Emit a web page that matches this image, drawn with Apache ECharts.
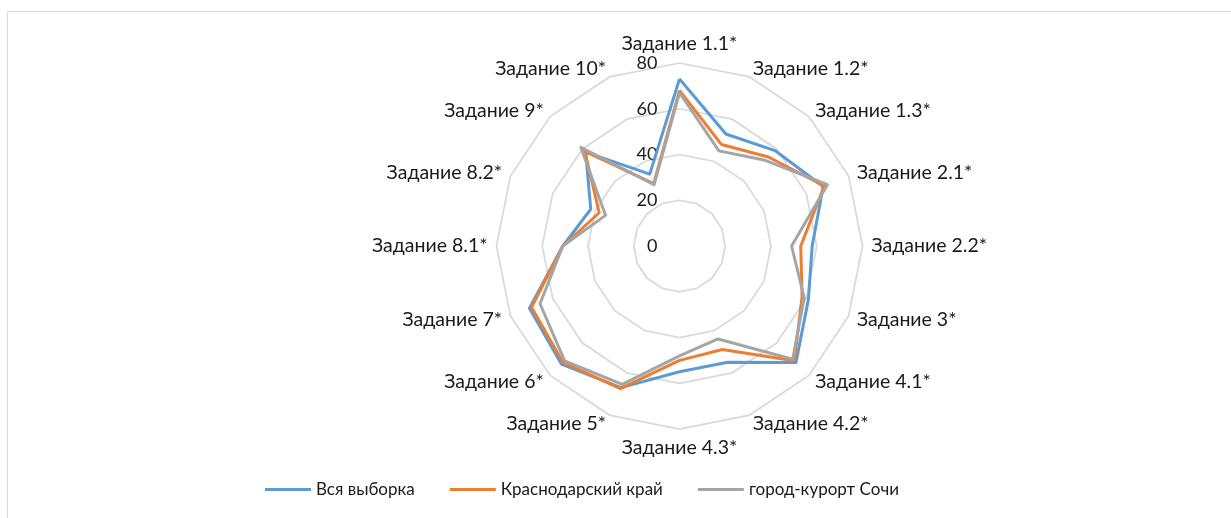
<!DOCTYPE html>
<html>
<head>
<meta charset="utf-8">
<script src="https://cdn.jsdelivr.net/npm/echarts@6/dist/echarts.min.js"></script>
<style>
  html, body { margin: 0; padding: 0; background: #fff; }
  #chart { width: 1231px; height: 518px; }
</style>
</head>
<body>
<div id="chart"></div>
<script>
// Task names, clockwise from the top
const tasks = [
  'Задание 1.1*', 'Задание 1.2*', 'Задание 1.3*', 'Задание 2.1*',
  'Задание 2.2*', 'Задание 3*', 'Задание 4.1*', 'Задание 4.2*',
  'Задание 4.3*', 'Задание 5*', 'Задание 6*', 'Задание 7*',
  'Задание 8.1*', 'Задание 8.2*', 'Задание 9*', 'Задание 10*'
];
const seriesNames = ['Вся выборка', 'Краснодарский край', 'город-курорт Сочи'];
const allSample = [73, 53, 59, 68, 58, 61, 72, 55, 55, 67, 73, 71, 51, 42, 58, 34];
const krasnodar = [68, 48, 55, 68.5, 53, 58, 71, 49, 50, 67.5, 72, 70, 51, 38, 58.5, 29.5];
const sochi = [67, 45, 53, 70, 49, 59, 70, 44, 48, 65.5, 71, 66, 51, 35, 61, 29];
const scaleMax = 80;
const scaleStep = 20;
const colors = ['#5B9BD5', '#ED7D31', '#A5A5A5'];

// ECharts lays radar axes out counter-clockwise; keep the first axis on top
// and reverse the rest so the tasks run clockwise.
function clockwise(arr) {
  return [arr[0]].concat(arr.slice(1).reverse());
}

const indicator = clockwise(tasks).map((name, i) => ({
  name: name,
  min: 0,
  max: scaleMax,
  axisLabel: { show: i === 0 }
}));

const values = [allSample, krasnodar, sochi];

const chart = echarts.init(document.getElementById('chart'));
chart.setOption({
  animation: false,
  textStyle: { fontFamily: 'Lato', color: '#1a1a1a' },
  graphic: [{
    type: 'rect',
    shape: { x: 7.5, y: 11.5, width: 1240, height: 520 },
    style: { fill: 'none', stroke: '#d9d9d9', lineWidth: 1 },
    silent: true
  }],
  legend: {
    left: 260,
    top: 476,
    icon: 'rect',
    itemWidth: 46,
    itemHeight: 3,
    itemGap: 35,
    textStyle: { fontSize: 17, color: '#1a1a1a', fontFamily: 'Lato' },
    data: seriesNames
  },
  radar: {
    center: [679.5, 246],
    radius: 183,
    startAngle: 90,
    splitNumber: scaleMax / scaleStep,
    shape: 'polygon',
    nameGap: 9,
    axisName: { color: '#1a1a1a', fontSize: 19.5, fontFamily: 'Lato' },
    axisLine: { show: false },
    axisTick: { show: false },
    axisLabel: { show: false, fontSize: 18, color: '#1a1a1a', fontFamily: 'Lato', margin: 22 },
    splitLine: { lineStyle: { color: '#d9d9d9', width: 1.75 } },
    splitArea: { show: false },
    indicator: indicator
  },
  series: [{
    type: 'radar',
    symbol: 'none',
    data: values.map((v, i) => ({
      name: seriesNames[i],
      value: clockwise(v),
      lineStyle: { color: colors[i], width: 3 },
      itemStyle: { color: colors[i] }
    }))
  }]
});
</script>
</body>
</html>
